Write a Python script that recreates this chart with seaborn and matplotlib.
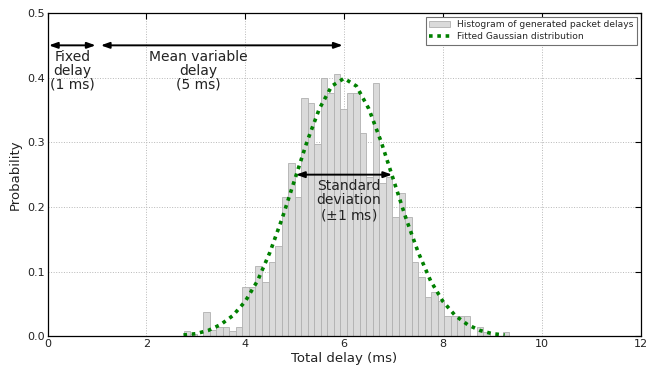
import matplotlib
matplotlib.use("Agg")
import numpy as np
import matplotlib.pyplot as plt
import seaborn as sns
from matplotlib.patches import Patch
from matplotlib.lines import Line2D

# histogram of packet delays (normalised, 50 bins)
hist_start = 2.76
hist_end = 9.34
n_bins = 50
densities = [0.008, 0.004, 0.0, 0.038, 0.009, 0.015, 0.015, 0.008, 0.015, 0.077,
             0.077, 0.109, 0.084, 0.115, 0.139, 0.216, 0.268, 0.216, 0.368, 0.361,
             0.298, 0.399, 0.376, 0.406, 0.352, 0.376, 0.376, 0.315, 0.247, 0.391,
             0.237, 0.247, 0.184, 0.222, 0.184, 0.115, 0.092, 0.061, 0.069, 0.055,
             0.031, 0.031, 0.031, 0.031, 0.0, 0.015, 0.007, 0.0, 0.0, 0.007]

# fitted gaussian
curve_x = [2.75, 3.0, 3.25, 3.5, 3.75, 4.0, 4.25, 4.5, 4.75, 5.0, 5.25, 5.5, 5.75, 6.0,
           6.25, 6.5, 6.75, 7.0, 7.25, 7.5, 7.75, 8.0, 8.25, 8.5, 8.75, 9.0, 9.25]
curve_y = [0.002, 0.004, 0.009, 0.018, 0.032, 0.054, 0.086, 0.130, 0.183, 0.242,
           0.301, 0.352, 0.387, 0.399, 0.387, 0.352, 0.301, 0.242, 0.183, 0.130,
           0.086, 0.054, 0.032, 0.018, 0.009, 0.004, 0.002]

sns.set_style("whitegrid", {"axes.edgecolor": "black", "grid.color": "#b8b8b8",
                            "grid.linestyle": ":", "xtick.direction": "in",
                            "ytick.direction": "in"})
plt.rcParams['font.family'] = ['DejaVu Sans']

bar_face = "#dadada"
bar_edge = "#b0b0b0"

fig = plt.figure(figsize=(6.49, 3.72), dpi=100)
ax = fig.add_axes([0.0733, 0.096, 0.9137, 0.869])

width = (hist_end - hist_start) / n_bins
centers = [hist_start + width * (i + 0.5) for i in range(n_bins)]
sns.histplot(x=centers, weights=densities, bins=n_bins, binrange=(hist_start, hist_end),
             color=bar_face, edgecolor=bar_edge, linewidth=0.6, alpha=1, ax=ax)
sns.lineplot(x=curve_x, y=curve_y, color="green", linestyle=(0, (1, 1.3)), linewidth=2.6, ax=ax)

ax.set_xlim(0, 12)
ax.set_ylim(0, 0.5)
ax.set_xticks(range(0, 13, 2))
ax.set_yticks([0.0, 0.1, 0.2, 0.3, 0.4, 0.5])
ax.set_yticklabels(["0.0", "0.1", "0.2", "0.3", "0.4", "0.5"])
ax.tick_params(labelsize=8, length=4, width=0.8, top=True, right=True, pad=2, colors="black",
               labelcolor="#222222")
for s in ax.spines.values():
    s.set_linewidth(0.9)
ax.grid(True, linewidth=0.7)
ax.set_axisbelow(True)
ax.set_xlabel("Total delay (ms)", fontsize=9.5, labelpad=2, color="#222222")
ax.set_ylabel("Probability", fontsize=9.5, labelpad=4, color="#222222")

arrow = dict(arrowstyle="<|-|>,head_length=0.5,head_width=0.18", color="black", lw=1.4,
             shrinkA=1, shrinkB=1)
ax.annotate("", xy=(0.0, 0.45), xytext=(1.0, 0.45), arrowprops=arrow)
ax.annotate("", xy=(1.05, 0.45), xytext=(6.0, 0.45), arrowprops=arrow)
ax.annotate("", xy=(5.0, 0.25), xytext=(7.0, 0.25), arrowprops=arrow)

txt = dict(ha="center", va="top", fontsize=10, linespacing=1.0, color="#222222")
ax.text(0.5, 0.443, "Fixed\ndelay\n(1 ms)", **txt)
ax.text(3.05, 0.443, "Mean variable\ndelay\n(5 ms)", **txt)
ax.text(6.1, 0.243, "Standard\ndeviation\n($\\pm$1 ms)", **txt)

handles = [Patch(facecolor=bar_face, edgecolor=bar_edge, linewidth=0.6),
           Line2D([0], [0], color="green", linestyle=(0, (1, 1.3)), linewidth=2.6)]
labels = ["Histogram of generated packet delays", "Fitted Gaussian distribution"]
leg = ax.legend(handles, labels, loc="upper right", fontsize=6.6, fancybox=False,
                framealpha=1, borderaxespad=0.4, handlelength=2.2, borderpad=0.4,
                labelspacing=0.3)
leg.get_frame().set_edgecolor("#707070")
leg.get_frame().set_linewidth(0.8)

fig.savefig("out.png", dpi=100)
